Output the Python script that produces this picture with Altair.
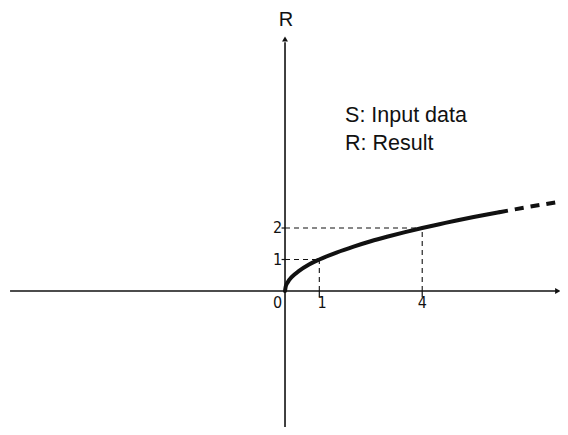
import altair as alt
import pandas as pd

# ---- data ----
S_SOLID = [0, 0.02, 0.08, 0.2, 0.4, 0.7, 1.0, 1.5, 2.0, 2.5, 3.0, 3.5, 4.0, 4.5, 5.0, 5.5, 6.24]
R_SOLID = [0, 0.14, 0.28, 0.45, 0.63, 0.84, 1.0, 1.22, 1.41, 1.58, 1.73, 1.87, 2.0, 2.12, 2.24, 2.35, 2.5]
S_DASH = [6.24, 7.0, 7.93]
R_DASH = [2.5, 2.65, 2.82]
GUIDE_S = [1, 4]
GUIDE_R = [1, 2]
X_TICK_LABELS = ["1", "4"]
Y_TICK_LABELS = ["1", "2"]
ORIGIN_LABEL = "0"
AXIS_TITLE = "R"
NOTE_LINES = ["S: Input data", "R: Result"]

XMIN, XMAX = -8.076, 8.017
YMIN, YMAX = -4.317, 8.984

xs = alt.Scale(domain=[XMIN, XMAX], nice=False, zero=False)
ys = alt.Scale(domain=[YMIN, YMAX], nice=False, zero=False)

def X(f="x"):
    return alt.X(f"{f}:Q", scale=xs, axis=None)

def Y(f="y"):
    return alt.Y(f"{f}:Q", scale=ys, axis=None)

BLACK = "#111111"
NARROW = "'Liberation Sans Narrow', 'DejaVu Sans Condensed', 'Roboto Condensed', sans-serif"
SANS = "'Liberation Sans', Arial, sans-serif"

# axes lines
axes_df = pd.DataFrame({
    "x": [XMIN + 0.06, 0.0],
    "x2": [7.9, 0.0],
    "y": [0.0, YMIN],
    "y2": [0.0, 7.9],
})
axes = alt.Chart(axes_df).mark_rule(color=BLACK, strokeWidth=1.6).encode(
    x=X(), x2="x2:Q", y=Y(), y2="y2:Q"
)

arrows_df = pd.DataFrame({"x": [0.0, 7.95], "y": [8.0, 0.0], "shape": ["triangle-up", "triangle-right"]})
arrows = alt.Chart(arrows_df).mark_point(filled=True, color=BLACK, opacity=1, size=35).encode(
    x=X(), y=Y(), shape=alt.Shape("shape:N", scale=None, legend=None)
)

# dashed guides
guides_rows = []
for s, r in zip(GUIDE_S, GUIDE_R):
    guides_rows.append({"x": 0.0, "x2": s, "y": r, "y2": r})
    guides_rows.append({"x": s, "x2": s, "y": 0.0, "y2": r})
guides = alt.Chart(pd.DataFrame(guides_rows)).mark_rule(
    color=BLACK, strokeWidth=1.1, strokeDash=[5, 4]
).encode(x=X(), x2="x2:Q", y=Y(), y2="y2:Q")

# small tick marks
ticks_rows = []
for r in GUIDE_R:
    ticks_rows.append({"x": -0.1, "x2": 0.0, "y": r, "y2": r})
for s in GUIDE_S:
    ticks_rows.append({"x": s, "x2": s, "y": -0.2, "y2": 0.0})
ticks = alt.Chart(pd.DataFrame(ticks_rows)).mark_rule(color=BLACK, strokeWidth=1.2).encode(
    x=X(), x2="x2:Q", y=Y(), y2="y2:Q"
)

# curve
solid = alt.Chart(pd.DataFrame({"x": S_SOLID, "y": R_SOLID})).mark_line(
    color=BLACK, strokeWidth=4, interpolate="monotone", strokeCap="round"
).encode(x=X(), y=Y(), order="x:Q")

dashed = alt.Chart(pd.DataFrame({"x": S_DASH, "y": R_DASH})).mark_line(
    color=BLACK, strokeWidth=4, interpolate="monotone", strokeDash=[9, 7], strokeCap="butt"
).encode(x=X(), y=Y(), order="x:Q")

# tick labels
tick_lbl_df = pd.DataFrame({
    "x": [-0.22, 1.08, 4.0, -0.22, -0.22],
    "y": [-0.38, -0.38, -0.38, 1.0, 2.0],
    "t": [ORIGIN_LABEL] + X_TICK_LABELS + Y_TICK_LABELS,
})
tick_lbls = alt.Chart(tick_lbl_df).mark_text(
    font=NARROW, fontSize=16, color=BLACK, align="center", baseline="middle"
).encode(x=X(), y=Y(), text="t:N")

title_df = pd.DataFrame({"x": [0.03], "y": [8.6], "t": [AXIS_TITLE]})
title = alt.Chart(title_df).mark_text(
    font=SANS, fontSize=20, color=BLACK, align="center", baseline="middle"
).encode(x=X(), y=Y(), text="t:N")

notes_df = pd.DataFrame({"x": [1.75, 1.75], "y": [5.37, 4.48], "t": NOTE_LINES})
notes = alt.Chart(notes_df).mark_text(
    font=SANS, fontSize=21.5, color=BLACK, align="left", baseline="alphabetic"
).encode(x=X(), y=Y(), text="t:N")

chart = alt.layer(axes, arrows, guides, ticks, solid, dashed, tick_lbls, title, notes).properties(
    width=552, height=419, padding=0, autosize=alt.AutoSizeParams(type="none"), background="white"
).configure_view(stroke=None)

chart.save("out.html", embed_options={"renderer": "svg", "actions": False})
